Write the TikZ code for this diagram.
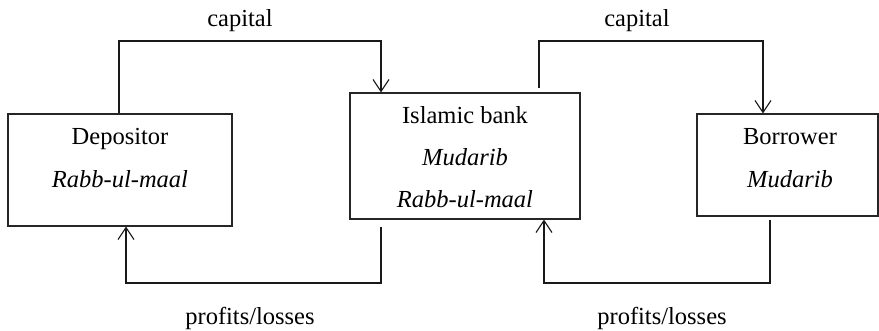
\documentclass[tikz,border=0pt]{standalone}
\usepackage{fontspec}
\setmainfont{Liberation Serif}
\usetikzlibrary{arrows.meta,calc}
\begin{document}
\begin{tikzpicture}[x=1pt,y=-1pt,
  boxnode/.style={draw=black!85,line width=1.1pt,rectangle,inner sep=0pt},
  txt/.style={anchor=base,inner sep=0pt,font=\fontsize{24.5}{29}\selectfont},
  itxt/.style={txt,font=\fontsize{24.5}{29}\selectfont\itshape},
  flow/.style={draw=black!90,line width=1.3pt},
  arr/.style={flow,-{Straight Barb[length=12pt,width=16pt,line width=1.1pt]}}]
\useasboundingbox (0,0) rectangle (879,331);
% boxes
\node[boxnode,minimum width=224pt,minimum height=112pt] (dep) at (120,170) {};
\node[boxnode,minimum width=230pt,minimum height=126pt] (bank) at (465,156) {};
\node[boxnode,minimum width=181pt,minimum height=102pt] (bor) at (787.5,165) {};
% texts in boxes
\node[txt] (depA) at (120,145) {Depositor};
\node[itxt] (depB) at (120,188) {Rabb-ul-maal};
\node[txt] (bankA) at (465,124) {Islamic bank};
\node[itxt] (bankB) at (465,166) {Mudarib};
\node[itxt] (bankC) at (465,208) {Rabb-ul-maal};
\node[txt] (borA) at (790,145) {Borrower};
\node[itxt] (borB) at (790,188) {Mudarib};
% labels
\node[txt] (cap1) at (240,27) {capital};
\node[txt] (cap2) at (637,27) {capital};
\node[txt] (pl1) at (250,325) {profits/losses};
\node[txt] (pl2) at (662,325) {profits/losses};
% corner coordinates
\coordinate (t1) at (119,41);
\coordinate (t2) at (381,41);
\coordinate (t3) at (539,41);
\coordinate (t4) at (763,41);
\coordinate (b1) at (381,283);
\coordinate (b2) at (126,283);
\coordinate (b3) at (770,283);
\coordinate (b4) at (544,283);
% connectors
\draw[arr] (t1 |- dep.north) -- (t1) -- (t2) -- (t2 |- bank.north);
\draw[arr] ($(t3 |- bank.north)+(0,-4)$) -- (t3) -- (t4) -- (t4 |- bor.north);
\draw[arr] ($(b1 |- bank.south)+(0,7)$) -- (b1) -- (b2) -- (b2 |- dep.south);
\draw[arr] ($(b3 |- bor.south)+(0,3)$) -- (b3) -- (b4) -- (b4 |- bank.south);
\end{tikzpicture}
\end{document}
